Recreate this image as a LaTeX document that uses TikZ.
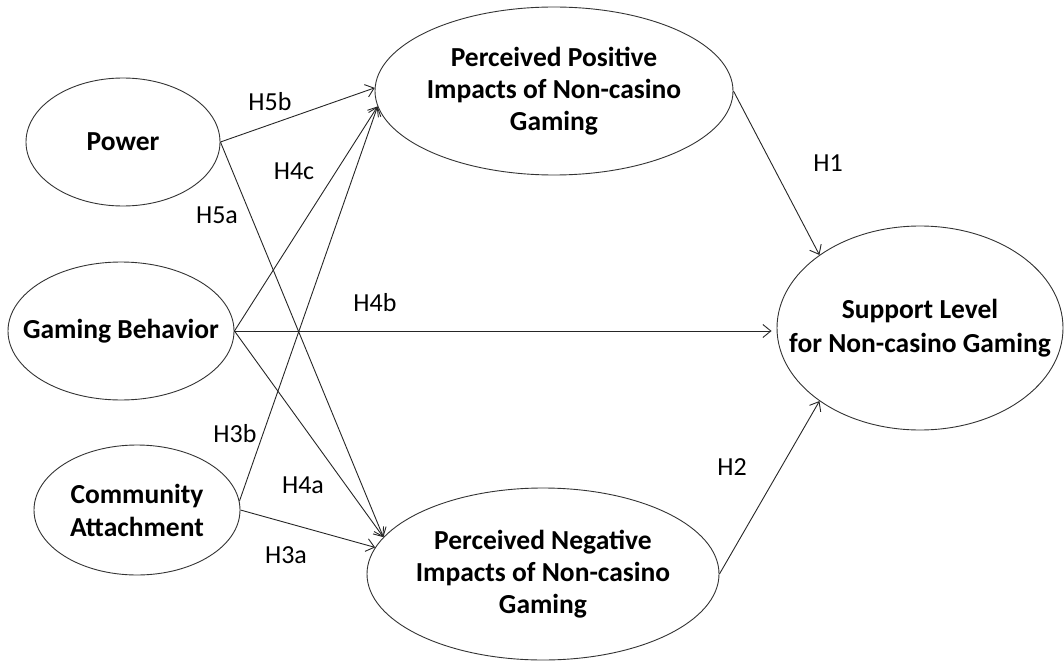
\documentclass[tikz,border=0pt]{standalone}
\usepackage{fontspec}
\setmainfont{Carlito}
\usetikzlibrary{shapes.geometric,arrows.meta}
\begin{document}
\begin{tikzpicture}[x=1pt,y=-1pt,
  latent/.style={draw=black!80, line width=0.9pt, ellipse, inner sep=0pt},
  ltext/.style={inner sep=0pt, align=center, font=\fontsize{27.5}{32}\selectfont\bfseries},
  link/.style={draw=black!85, line width=0.9pt, -{Straight Barb[length=8pt,width=13pt]}},
  hlab/.style={font=\fontsize{26}{32}\selectfont, inner sep=0pt}]
\useasboundingbox (0,0) rectangle (1064,663);
% latent constructs
\node[latent, minimum width=194pt, minimum height=128pt,
      label={[ltext]center:Power}] (pow) at (123,142) {};
\node[latent, minimum width=226pt, minimum height=138pt,
      label={[ltext]center:Gaming Behavior}] (gb) at (121,331) {};
\node[latent, minimum width=206pt, minimum height=130pt,
      label={[ltext]center:{Community\\[1pt]Attachment}}] (ca) at (137,510) {};
\node[latent, minimum width=358pt, minimum height=168pt,
      label={[ltext]center:{Perceived Positive\\Impacts of Non-casino\\Gaming}}] (pos) at (554,91) {};
\node[latent, minimum width=352pt, minimum height=172pt,
      label={[ltext]center:{Perceived Negative\\Impacts of Non-casino\\Gaming}}] (neg) at (543,574) {};
\node[latent, minimum width=286pt, minimum height=204pt,
      label={[ltext]center:{Support Level\\[2pt]for Non-casino Gaming}}] (sup) at (920,328) {};
% paths
\draw[link] (pow.east) -- (pos.179);
\draw[link] (pow.east) -- (neg.167.6);
\draw[link] (gb.east) -- (pos.185.2);
\draw[link] (gb.east) -- (neg.167.6);
\draw[link, shorten >=5pt] (gb.east) -- (gb.east -| sup.west);
\draw[link] (ca.5) -- (pos.185.2);
\draw[link] (ca.east) -- (neg.171.2);
\draw[link] (pos.east) -- (sup.144);
\draw[link] (neg.east) -- (sup.216);
% hypothesis labels
\node[hlab] (h5b) at (270,102) {H5b};
\node[hlab] (h4c) at (294,171) {H4c};
\node[hlab] (h5a) at (217,215) {H5a};
\node[hlab] (h4b) at (375,303) {H4b};
\node[hlab] (h3b) at (235,434) {H3b};
\node[hlab] (h4a) at (303,485) {H4a};
\node[hlab] (h3a) at (286,555) {H3a};
\node[hlab] (h1) at (828,163) {H1};
\node[hlab] (h2) at (732,467) {H2};
\end{tikzpicture}
\end{document}
